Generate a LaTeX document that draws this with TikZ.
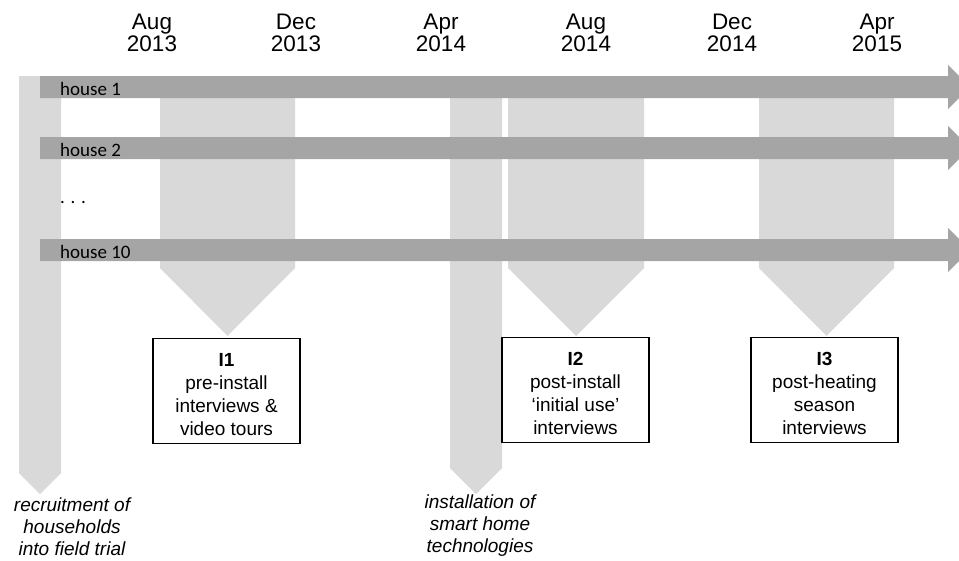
\documentclass[tikz,border=0pt]{standalone}
\usepackage{fontspec}
\setmainfont{Liberation Sans}
\newfontfamily\calibfont{Carlito}
\definecolor{lightbar}{RGB}{217,217,217}
\definecolor{darkbar}{RGB}{165,165,165}
\begin{document}
\begin{tikzpicture}[x=1pt,y=-1pt,
  vbar/.style={fill=lightbar, draw=none},
  hbar/.style={fill=darkbar, draw=none},
  datelbl/.style={align=center, inner sep=0pt, anchor=north, font=\fontsize{22.5}{22}\selectfont},
  stagebox/.style={draw=black, line width=1.2pt, fill=white, minimum width=147pt, minimum height=105pt,
    align=center, anchor=north, inner sep=0pt, font=\fontsize{19}{23}\selectfont},
  houselbl/.style={anchor=base west, inner sep=0pt, font=\calibfont\fontsize{19}{20}\selectfont},
  notelbl/.style={align=center, anchor=north, inner sep=0pt, font=\itshape\fontsize{19}{21.8}\selectfont}
]
\useasboundingbox (0,0) rectangle (959,560);
\clip (0,0) rectangle (959,560);

% date labels
\node[datelbl] (d1) at (152,14) {Aug\\2013};
\node[datelbl] (d2) at (296,14) {Dec\\2013};
\node[datelbl] (d3) at (441,14) {Apr\\2014};
\node[datelbl] (d4) at (586,14) {Aug\\2014};
\node[datelbl] (d5) at (732,14) {Dec\\2014};
\node[datelbl] (d6) at (877,14) {Apr\\2015};

% vertical phase arrows (behind the house bars)
\fill[vbar] (19,76) -- (61,76) -- (61,473) -- (40,494) -- (19,473) -- cycle;
\fill[vbar] (450,98) -- (502,98) -- (502,468) -- (476,494) -- (450,468) -- cycle;
\fill[vbar] (160,98) -- (295,98) -- (295,268) -- (227.5,336) -- (160,268) -- cycle;
\fill[vbar] (508,98) -- (644,98) -- (644,268) -- (576,336) -- (508,268) -- cycle;
\fill[vbar] (759,98) -- (894,98) -- (894,268) -- (826.5,336) -- (759,268) -- cycle;

% house timelines
\foreach \c in {87,148,250}{
  \fill[hbar] (40,\c-11) -- (948,\c-11) -- (948,\c-22) -- (970,\c) -- (948,\c+22) -- (948,\c+11) -- (40,\c+11) -- cycle;
}
\node[houselbl] (h1) at (60,95) {house 1};
\node[houselbl] (h2) at (60,156) {house 2};
\node[houselbl] (hd) at (60,203) {. . .};
\node[houselbl] (h10) at (60,258) {house 10};

% interview boxes
\node[stagebox] (i1) at (226.5,338) {\rule{0pt}{19.6pt}\textbf{I1}\\pre-install\\interviews \&\\video tours};
\node[stagebox] (i2) at (575.5,337) {\rule{0pt}{19.6pt}\textbf{I2}\\post-install\\‘initial use’\\interviews};
\node[stagebox] (i3) at (824.5,337) {\rule{0pt}{19.6pt}\textbf{I3}\\post-heating\\season\\interviews};

% notes
\node[notelbl] (rec) at (72,498) {recruitment of\\households\\into field trial};
\node[notelbl] (inst) at (480,495) {installation of\\smart home\\technologies};
\end{tikzpicture}
\end{document}
